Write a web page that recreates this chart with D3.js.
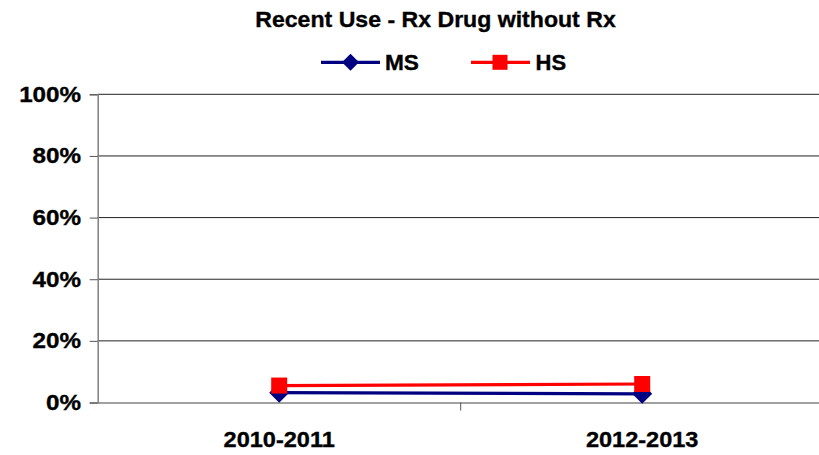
<!DOCTYPE html>
<html>
<head>
<meta charset="utf-8">
<script src="https://cdn.jsdelivr.net/npm/d3@7"></script>
<style>
  html, body { margin: 0; padding: 0; background: #fff; }
  svg { display: block; font-family: "Liberation Sans", Arial, sans-serif; font-weight: bold; }
</style>
</head>
<body>
<svg id="chart" width="819" height="455"></svg>
<script>
// Survey periods and share of students reporting recent use
const categories = ["2010-2011", "2012-2013"];
const msValues = [0.032, 0.028];
const hsValues = [0.055, 0.060];
const yTicks = [0, 0.2, 0.4, 0.6, 0.8, 1.0];
const seriesNames = ["MS", "HS"];
const chartTitle = "Recent Use - Rx Drug without Rx";

const svg = d3.select("#chart");
const plotLeft = 97.7, plotRight = 823.7, plotTop = 94.3, plotBottom = 402.5;

const x = d3.scaleBand().domain(categories).range([plotLeft, plotRight]).paddingInner(0).paddingOuter(0);
const y = d3.scaleLinear().domain([0, 1]).range([plotBottom, plotTop]);
const cx = c => x(c) + x.bandwidth() / 2;

// Text in the chart is slightly wide-set and heavy
function wideText(g, str, tx, ty, anchor, size, sx) {
  return g.append("text")
    .attr("transform", `translate(${tx},${ty}) scale(${sx},1)`)
    .attr("text-anchor", anchor)
    .attr("font-size", size)
    .attr("fill", "#000")
    .attr("stroke", "#000")
    .attr("stroke-width", 0.35)
    .text(str);
}

// Gridlines
svg.append("g").selectAll("line")
  .data(yTicks.filter(d => d > 0))
  .join("line")
  .attr("x1", plotLeft).attr("x2", 819)
  .attr("y1", d => y(d)).attr("y2", d => y(d))
  .attr("stroke", "#222").attr("stroke-width", 1);

// Y axis
const yAxis = svg.append("g").attr("transform", `translate(${plotLeft},0)`)
  .call(d3.axisLeft(y).tickValues(yTicks).tickSize(8).tickFormat(""));
yAxis.select(".domain").attr("stroke", "#808080").attr("stroke-width", 1.5);
yAxis.selectAll(".tick line").attr("stroke", "#555");
yTicks.forEach(v => wideText(svg, d3.format(".0%")(v), 81, y(v) + 7.5, "end", 22, 1.1));

// X axis with ticks between categories
const xAxis = svg.append("g").attr("transform", `translate(0,${plotBottom})`)
  .call(d3.axisBottom(x).tickSize(0).tickFormat(""));
xAxis.select(".domain").attr("stroke", "#808080").attr("stroke-width", 1.5);
xAxis.append("line")
  .attr("x1", x(categories[1])).attr("x2", x(categories[1]))
  .attr("y1", 0).attr("y2", 8).attr("stroke", "#555");
categories.forEach(c => wideText(svg, c, cx(c), 446.5, "middle", 22, 1.07));

// Series lines
const line = d3.line().x((d, i) => cx(categories[i])).y(d => y(d));
svg.append("path").datum(hsValues).attr("d", line)
  .attr("fill", "none").attr("stroke", "#ff0000").attr("stroke-width", 3.2);
svg.append("path").datum(msValues).attr("d", line)
  .attr("fill", "none").attr("stroke", "#000080").attr("stroke-width", 3.2);

// Markers
const diamond = (px, py, r) => `M${px},${py - r}L${px + r},${py}L${px},${py + r}L${px - r},${py}Z`;
svg.append("g").selectAll("path").data(msValues).join("path")
  .attr("d", (d, i) => diamond(cx(categories[i]), y(d), 10))
  .attr("fill", "#000080");
svg.append("g").selectAll("rect").data(hsValues).join("rect")
  .attr("x", (d, i) => cx(categories[i]) - 8)
  .attr("y", d => y(d) - 8)
  .attr("width", 16).attr("height", 16)
  .attr("fill", "#ff0000");

// Title
wideText(svg, chartTitle, 435.5, 26.5, "middle", 22, 1.05);

// Legend
const legY = 62.3;
svg.append("line").attr("x1", 321).attr("x2", 380).attr("y1", legY).attr("y2", legY)
  .attr("stroke", "#000080").attr("stroke-width", 3.2);
svg.append("path").attr("d", diamond(350.5, legY, 8.5)).attr("fill", "#000080");
wideText(svg, seriesNames[0], 385, 69.5, "start", 22, 1.03);

svg.append("line").attr("x1", 471).attr("x2", 530).attr("y1", legY).attr("y2", legY)
  .attr("stroke", "#ff0000").attr("stroke-width", 3.2);
svg.append("rect").attr("x", 492.5).attr("y", legY - 7.5).attr("width", 15).attr("height", 15)
  .attr("fill", "#ff0000");
wideText(svg, seriesNames[1], 535.5, 69.5, "start", 22, 1.0);
</script>
</body>
</html>
